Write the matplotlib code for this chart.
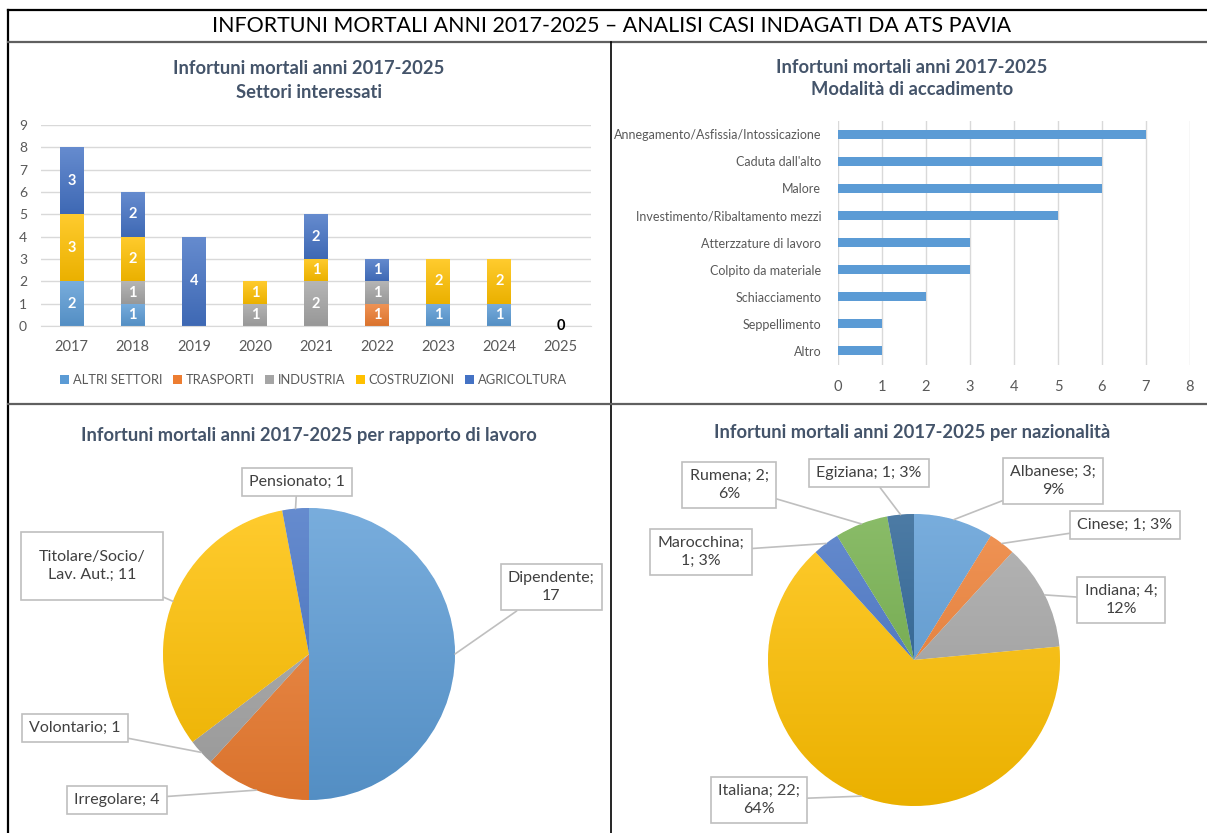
import matplotlib
matplotlib.use('Agg')
import matplotlib.pyplot as plt
import numpy as np
from matplotlib.colors import to_rgb

plt.rcParams['font.family'] = ['Lato', 'DejaVu Sans']

W, H = 1207, 833

### dati ###
anni = ['2017', '2018', '2019', '2020', '2021', '2022', '2023', '2024', '2025']
settori = ['ALTRI SETTORI', 'TRASPORTI', 'INDUSTRIA', 'COSTRUZIONI', 'AGRICOLTURA']
altri_settori = [2, 1, 0, 0, 0, 0, 1, 1, 0]
trasporti = [0, 0, 0, 0, 0, 1, 0, 0, 0]
industria = [0, 1, 0, 1, 2, 1, 0, 0, 0]
costruzioni = [3, 2, 0, 1, 1, 0, 2, 2, 0]
agricoltura = [3, 2, 4, 0, 2, 1, 0, 0, 0]

modalita = ['Annegamento/Asfissia/Intossicazione', "Caduta dall'alto", 'Malore',
            'Investimento/Ribaltamento mezzi', 'Atterzzature di lavoro',
            'Colpito da materiale', 'Schiacciamento', 'Seppellimento', 'Altro']
modalita_casi = [7, 6, 6, 5, 3, 3, 2, 1, 1]

rapporto = ['Dipendente', 'Irregolare', 'Volontario', 'Titolare/Socio/\nLav. Aut.', 'Pensionato']
rapporto_casi = [17, 4, 1, 11, 1]

nazionalita = ['Albanese', 'Cinese', 'Indiana', 'Italiana', 'Marocchina', 'Rumena', 'Egiziana']
nazionalita_casi = [3, 1, 4, 22, 1, 2, 1]
nazionalita_perc = ['9%', '3%', '12%', '64%', '3%', '6%', '3%']

### stile ###
BLU = '#5B9BD5'; ARANCIO = '#ED7D31'; GRIGIO = '#A5A5A5'; GIALLO = '#FFC000'
BLU_SC = '#4472C4'; VERDE = '#70AD47'; BLU_NOTTE = '#255E91'
col_settori = [BLU, ARANCIO, GRIGIO, GIALLO, BLU_SC]
col_rapporto = [BLU, ARANCIO, GRIGIO, GIALLO, BLU_SC]
col_naz = [BLU, ARANCIO, GRIGIO, GIALLO, BLU_SC, VERDE, BLU_NOTTE]
TITOLO = '#44546A'
TESTO = '#595959'
GRID = '#D9D9D9'


def px_rect(x0, y0, x1, y1):  # pixel box (top-left origin) -> figure coords
    return [x0 / W, 1 - y1 / H, (x1 - x0) / W, (y1 - y0) / H]


def sfuma(ax, patch, colore, ext, top=0.18, bot=0.08):  # gradient like excel
    c = np.array(to_rgb(colore))
    c_top = c + (1 - c) * top
    c_bot = c * (1 - bot)
    t = np.linspace(0, 1, 64)[:, None, None]
    img = c_bot[None, None, :] * (1 - t) + c_top[None, None, :] * t
    im = ax.imshow(img, extent=ext, origin='lower', aspect='auto',
                   interpolation='bilinear', zorder=patch.get_zorder() + 0.01)
    im.set_clip_path(patch)


fig = plt.figure(figsize=(W / 100, H / 100), dpi=100)

# tabella di sfondo
bg = fig.add_axes([0, 0, 1, 1])
bg.set_xlim(0, W); bg.set_ylim(H, 0); bg.axis('off')
bg.plot([8, W], [10, 10], color='black', lw=1.6)
bg.plot([8, 8], [10, H], color='black', lw=1.6)
bg.plot([8, W], [42, 42], color='#606060', lw=1.6)
bg.plot([611, 611], [42, H], color='black', lw=1.2)
bg.plot([8, W], [404, 404], color='#606060', lw=1.6)
bg.text(612, 26, 'INFORTUNI MORTALI ANNI 2017-2025 \u2013 ANALISI CASI INDAGATI DA ATS PAVIA',
        ha='center', va='center', fontsize=15.4, color='black')

# titoli dei grafici
kw_t = dict(ha='center', va='center', fontsize=13.2, fontweight='bold', color=TITOLO)
bg.text(309, 68, 'Infortuni mortali anni 2017-2025', **kw_t)
bg.text(309, 92, 'Settori interessati', **kw_t)
bg.text(912, 67, 'Infortuni mortali anni 2017-2025', **kw_t)
bg.text(912, 89, 'Modalità di accadimento', **kw_t)
bg.text(309, 435, 'Infortuni mortali anni 2017-2025 per rapporto di lavoro', **kw_t)
bg.text(912, 432, 'Infortuni mortali anni 2017-2025 per nazionalità', **kw_t)

### 1) settori - barre impilate ###
ax1 = fig.add_axes(px_rect(41, 125, 591, 326))
ax1.patch.set_alpha(0)
x = np.arange(len(anni))
base = np.zeros(len(anni))
serie = [altri_settori, trasporti, industria, costruzioni, agricoltura]
for nome, vals, col in zip(settori, serie, col_settori):
    vals = np.array(vals)
    bars = ax1.bar(x, vals, 0.39, bottom=base, color=col, label=nome, zorder=2)
    for b, v in zip(bars, vals):
        if v > 0:
            sfuma(ax1, b, col, (b.get_x(), b.get_x() + b.get_width(), b.get_y(), b.get_y() + v))
            ax1.text(b.get_x() + b.get_width() / 2, b.get_y() + v / 2, str(v), ha='center',
                     va='center', color='white', fontweight='bold', fontsize=10.5, zorder=4)
    base += vals
for i, tot in enumerate(base):
    if tot == 0:
        ax1.text(i, 0, '0', ha='center', va='center', color='black', fontweight='bold',
                 fontsize=10.5, zorder=4)
ax1.set_xlim(-0.5, len(anni) - 0.5)
ax1.set_ylim(0, 9)
ax1.set_xticks(x, anni)
ax1.set_yticks(range(10))
ax1.yaxis.grid(True, color=GRID, lw=1)
ax1.set_axisbelow(True)
for s in ['top', 'right', 'left']:
    ax1.spines[s].set_visible(False)
ax1.spines['bottom'].set_color(GRID)
ax1.tick_params(length=0, labelcolor=TESTO)
ax1.tick_params(axis='y', labelsize=10, pad=10)
ax1.tick_params(axis='x', labelsize=10.5, pad=10)
ax1.legend(loc='center', bbox_to_anchor=(0.496, -0.269), ncol=5, frameon=False,
           fontsize=9.3, labelcolor=TESTO, handlelength=0.7, handleheight=0.7,
           handletextpad=0.3, columnspacing=0.8)

### 2) modalita - barre orizzontali ###
ax2 = fig.add_axes(px_rect(838, 120.5, 1190, 364.5))
ax2.patch.set_alpha(0)
y = np.arange(len(modalita))
ax2.barh(y, modalita_casi, height=0.33, color=BLU, zorder=2)
ax2.set_ylim(len(modalita) - 0.5, -0.5)
ax2.set_xlim(0, 8)
ax2.set_yticks(y, modalita)
ax2.set_xticks(range(9))
ax2.xaxis.grid(True, color=GRID, lw=1)
ax2.set_axisbelow(True)
for s in ax2.spines.values():
    s.set_visible(False)
ax2.tick_params(length=0, labelcolor=TESTO, labelsize=9)
ax2.tick_params(axis='y', pad=12)
ax2.tick_params(axis='x', pad=11, labelsize=10.5)

### torte ###
R = 146.0  # raggio in pixel


def torta(rect_px, centro_px, vals, colori, etichette, pos, pads):
    x0, y0, x1, y1 = rect_px
    cx, cy = centro_px
    ax = fig.add_axes(px_rect(*rect_px))
    ax.patch.set_alpha(0)
    wedges, _ = ax.pie(vals, colors=colori, startangle=90, counterclock=False, radius=1,
                       wedgeprops=dict(edgecolor='white', linewidth=0.6))
    for w, c in zip(wedges, colori):
        sfuma(ax, w, c, (-1, 1, -1, 1))
    ax.set_xlim((x0 - cx) / R, (x1 - cx) / R)
    ax.set_ylim((cy - y1) / R, (cy - y0) / R)
    ax.axis('off')
    for w, txt, p, pd in zip(wedges, etichette, pos, pads):
        a = np.deg2rad((w.theta1 + w.theta2) / 2)
        ax.annotate(txt, xy=(np.cos(a), np.sin(a)), xytext=p, ha='center', va='center',
                    fontsize=11.5, color='#404040', annotation_clip=False, zorder=5,
                    linespacing=1.4,
                    bbox=dict(boxstyle=f'square,pad={pd}', fc='white', ec='#BFBFBF', lw=1.2),
                    arrowprops=dict(arrowstyle='-', color='#BFBFBF', lw=1.2,
                                    shrinkA=0, shrinkB=0))
    return ax


# 3) rapporto di lavoro
lab_rapporto = []
for n, v in zip(rapporto, rapporto_casi):
    sep = ';\n' if n == 'Dipendente' else '; '
    lab_rapporto.append(f'{n}{sep}{v}')
pos_rapporto = [(1.658, 0.459), (-1.315, -1.0), (-1.603, -0.507), (-1.486, 0.603), (-0.082, 1.178)]
pad_rapporto = [0.45, 0.45, 0.45, 1.1, 0.45]
torta((10, 405, 610, H), (309, 654), rapporto_casi, col_rapporto, lab_rapporto,
      pos_rapporto, pad_rapporto)

# 4) nazionalita
a_capo = ['Albanese', 'Indiana', 'Italiana', 'Rumena']
lab_naz = []
for n, v, p in zip(nazionalita, nazionalita_casi, nazionalita_perc):
    if n in a_capo:
        lab_naz.append(f'{n}; {v};\n{p}')
    elif n == 'Marocchina':
        lab_naz.append(f'{n};\n{v}; {p}')
    else:
        lab_naz.append(f'{n}; {v}; {p}')
pos_naz = [(0.952, 1.226), (1.445, 0.925), (1.418, 0.411), (-1.062, -0.959),
           (-1.459, 0.740), (-1.267, 1.199), (-0.308, 1.281)]
pad_naz = [0.45] * len(nazionalita)
torta((612, 405, W, H), (914, 660), nazionalita_casi, col_naz, lab_naz, pos_naz, pad_naz)

fig.savefig('out.png', dpi=100)
